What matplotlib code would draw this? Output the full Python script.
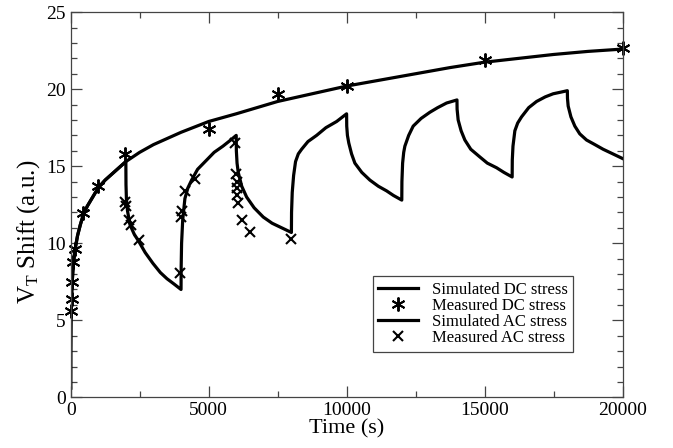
import matplotlib
matplotlib.use("Agg")
import matplotlib.pyplot as plt
from matplotlib.ticker import MultipleLocator

plt.rcParams['font.family'] = ['Liberation Serif', 'DejaVu Serif']
plt.rcParams['mathtext.fontset'] = 'custom'
plt.rcParams['mathtext.rm'] = 'Liberation Serif'
plt.rcParams['mathtext.it'] = 'Liberation Serif:italic'

# early part shared by both simulated curves
earlyT = [0, 3, 8, 15, 25, 40, 60, 80, 110, 150, 200, 250, 350, 450, 600, 800,
          1000, 1250, 1500, 1750, 2000]
earlyV = [0.6, 3.0, 4.5, 5.5, 6.2, 6.9, 7.6, 8.2, 8.8, 9.5, 10.0, 10.5, 11.2, 11.8,
          12.4, 13.0, 13.6, 14.1, 14.5, 14.9, 15.3]

# simulated DC stress, after 2000 s
dcT = [2500, 3000, 3500, 4000, 4500, 5000, 5500, 6000, 6750, 7500, 8750, 10000,
       11250, 12500, 13750, 15000, 16250, 17500, 18750, 20000]
dcV = [15.9, 16.4, 16.8, 17.2, 17.55, 17.9, 18.15, 18.4, 18.8, 19.2, 19.7, 20.2,
       20.6, 21.0, 21.4, 21.75, 22.0, 22.25, 22.45, 22.6]

# measured DC stress
dcMeasT = [10, 35, 60, 95, 155, 457, 978, 1967, 5000, 7500, 10000, 15000, 20000]
dcMeasV = [5.6, 6.4, 7.5, 8.8, 9.6, 11.95, 13.7, 15.8, 17.4, 19.7, 20.2, 21.9, 22.7]

# simulated AC stress, after 2000 s
acT = [2005, 2020, 2060, 2150, 2300, 2475, 2700, 2980, 3250, 3490, 3750, 4000,
       4005, 4020, 4060, 4140, 4250, 4384, 4600, 4928, 5200, 5518, 5800, 6000,
       6005, 6030, 6073, 6200, 6377, 6650, 6980, 7300, 7650, 8000,
       8005, 8030, 8080, 8150, 8250, 8370, 8600, 8913, 9250, 9638, 10000,
       10005, 10030, 10080, 10180, 10300, 10550, 10844, 11150, 11449, 11700, 12000,
       12005, 12030, 12070, 12112, 12250, 12413, 12700, 13018, 13300, 13623, 14000,
       14005, 14043, 14150, 14286, 14500, 14830, 15100, 15435, 15700, 16000,
       16005, 16030, 16098, 16200, 16340, 16600, 16884, 17200, 17486, 17750, 18000,
       18005, 18030, 18130, 18272, 18450, 18695, 19000, 19297, 19650, 20000]
acV = [13.8, 12.9, 12.1, 11.2, 10.6, 10.1, 9.4, 8.7, 8.1, 7.7, 7.35, 7.0,
       8.5, 10.0, 11.5, 12.9, 13.6, 14.1, 14.8, 15.4, 15.9, 16.3, 16.7, 17.0,
       16.0, 15.2, 14.6, 13.7, 13.0, 12.3, 11.7, 11.3, 11.0, 10.7,
       12.0, 13.3, 14.4, 15.3, 15.8, 16.1, 16.6, 17.0, 17.5, 17.9, 18.4,
       17.6, 17.0, 16.5, 15.8, 15.2, 14.6, 14.1, 13.7, 13.4, 13.1, 12.8,
       14.0, 15.2, 15.9, 16.3, 17.0, 17.6, 18.1, 18.5, 18.8, 19.1, 19.3,
       18.7, 18.0, 17.3, 16.7, 16.1, 15.6, 15.2, 14.9, 14.6, 14.3,
       15.4, 16.3, 17.3, 17.8, 18.2, 18.8, 19.2, 19.5, 19.7, 19.8, 19.9,
       19.4, 18.9, 18.2, 17.6, 17.1, 16.7, 16.4, 16.1, 15.8, 15.5]

# measured AC stress
acMeasT = [1967, 2004, 2112, 2173, 2486, 3960, 3996, 4022, 4141, 4504,
           5953, 5990, 6014, 6020, 6037, 6073, 6196, 6496, 7982]
acMeasV = [12.7, 12.4, 11.5, 11.2, 10.2, 8.1, 11.7, 12.1, 13.4, 14.2,
           16.5, 14.5, 14.0, 13.6, 13.1, 12.6, 11.5, 10.7, 10.3]

fig = plt.figure(figsize=(6.73, 4.48), dpi=100)
ax = fig.add_axes([0.105, 0.113, 0.82, 0.86])

asterisk = (6, 2, 0)
ax.plot(earlyT + dcT, earlyV + dcV, '-', color='k', lw=2.3, label='Simulated DC stress')
ax.plot(dcMeasT, dcMeasV, linestyle='none', marker=asterisk, ms=10, mew=1.4,
        color='k', clip_on=False, label='Measured DC stress')
ax.plot(earlyT + acT, earlyV + acV, '-', color='k', lw=2.3, label='Simulated AC stress')
ax.plot(acMeasT, acMeasV, linestyle='none', marker='x', ms=7, mew=1.5,
        color='k', clip_on=False, label='Measured AC stress')

ax.set_xlim(0, 20000)
ax.set_ylim(0, 25)
ax.xaxis.set_major_locator(MultipleLocator(5000))
ax.xaxis.set_minor_locator(MultipleLocator(2500))
ax.yaxis.set_major_locator(MultipleLocator(5))
ax.yaxis.set_minor_locator(MultipleLocator(1))
ax.tick_params(which='both', direction='in', top=True, right=True,
               colors='#444444', labelcolor='k', labelsize=14, width=0.9)
ax.tick_params(which='major', length=8)
ax.tick_params(which='minor', length=4.5)
for s in ax.spines.values():
    s.set_color('#444444')
    s.set_linewidth(0.9)

ax.set_xlabel('Time (s)', fontsize=16, labelpad=0)
ax.set_ylabel('V$_{\\rm T}$ Shift (a.u.)', fontsize=18)
ax.yaxis.set_label_coords(-0.052, 0.43)

leg = ax.legend(loc='lower left', bbox_to_anchor=(0.547, 0.118), fontsize=12,
                fancybox=False, edgecolor='#444444', framealpha=1,
                handlelength=2.4, handletextpad=0.8, labelspacing=0.0,
                borderpad=0.35, borderaxespad=0)
leg.get_frame().set_linewidth(0.9)

fig.savefig('out.png', dpi=100)
